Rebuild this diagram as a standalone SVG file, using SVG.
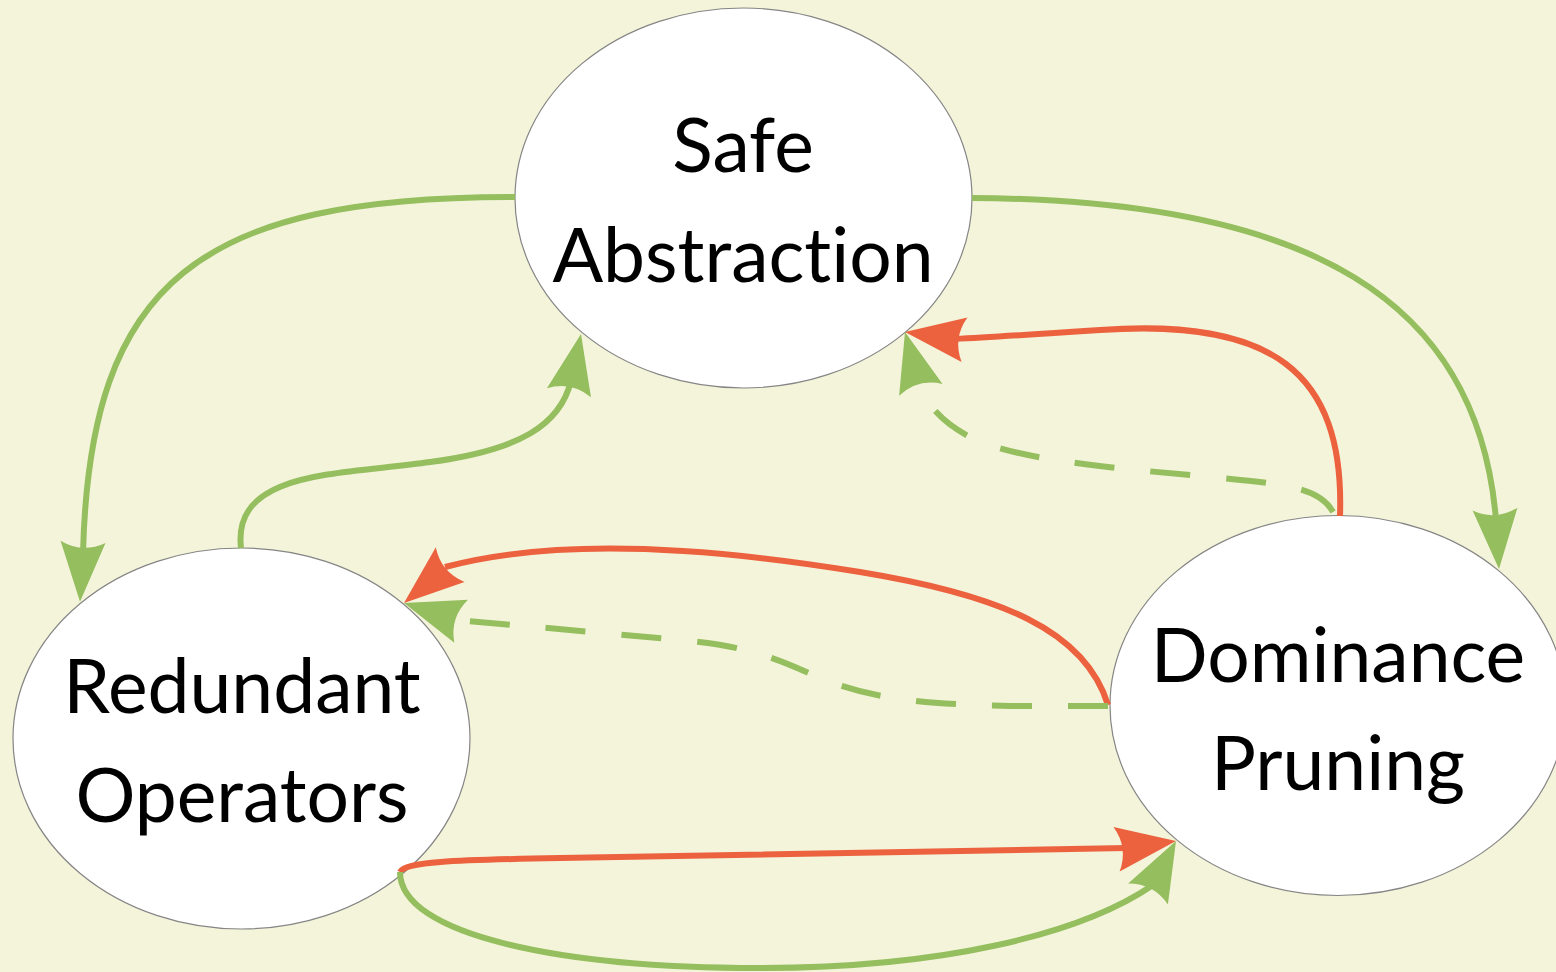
<svg xmlns="http://www.w3.org/2000/svg" xmlns:xlink="http://www.w3.org/1999/xlink" width="1556" height="972" viewBox="0 0 1556 972">
<style>
.node{fill:#ffffff;stroke:#858585;stroke-width:1.2}
.lbl{font-family:Lato,"Open Sans","Liberation Sans",sans-serif;font-size:75px;fill:#000;text-anchor:middle;font-variant-ligatures:none;font-feature-settings:"liga" 0,"clig" 0}
.g{fill:none;stroke:#95BE5E;stroke-width:6}
.r{fill:none;stroke:#EC623F;stroke-width:6}
.d{stroke-dasharray:40 36}
.gh{fill:#95BE5E}
.rh{fill:#EC623F}
</style>
<defs>
<path id="ah" d="M0,0 L-60,-22.5 Q-48,0 -60,22.5 Z"/>
</defs>
<rect width="1556" height="972" fill="#F4F4DB"/>
<g id="nodes">
<g id="safe">
<ellipse class="node" cx="743.5" cy="198" rx="228.5" ry="190"/>
<text class="lbl" x="743" y="172">Safe</text>
<text class="lbl" x="743" y="282">Abstraction</text>
</g>
<g id="redundant">
<ellipse class="node" cx="241.5" cy="738.5" rx="228.5" ry="190.5"/>
<text class="lbl" x="242" y="713">Redundant</text>
<text class="lbl" x="242" y="822">Operators</text>
</g>
<g id="dominance">
<ellipse class="node" cx="1338" cy="705.5" rx="228" ry="190"/>
<text class="lbl" x="1338" y="682">Dominance</text>
<text class="lbl" x="1338" y="790">Pruning</text>
</g>
</g>
<g id="connectors">
<path class="g" d="M515,197 C200,197 90,280 83,553"/>
<use xlink:href="#ah" class="gh" transform="translate(80,601.7) rotate(92.9)"/>
<path class="g" d="M972,198 C1310,200 1478,300 1496,520"/>
<use xlink:href="#ah" class="gh" transform="translate(1499,569) rotate(86.2)"/>
<path class="g" d="M241,548 C232,470 340,475 430,462 C520,450 560,425 571,381"/>
<use xlink:href="#ah" class="gh" transform="translate(581,334) rotate(-78.4)"/>
<path class="r" d="M1340,516 C1345,370 1270,318 1100,330 C1040,334 995,337 955,339"/>
<use xlink:href="#ah" class="rh" transform="translate(905,332) rotate(-172.6)"/>
<path class="g d" d="M1333,512 C1320,488 1290,484 1200,476 C1100,467 1010,458 970,437 C945,424 925,405 918,381"/>
<use xlink:href="#ah" class="gh" transform="translate(905,332) rotate(-105.3)"/>
<path class="r" d="M1108,705 C1085,630 1000,595 860,572 C720,549 560,536 445,567"/>
<use xlink:href="#ah" class="rh" transform="translate(404,603) rotate(140.3)"/>
<path class="g d" d="M1108,706 L1010,706 C900,704 860,694 820,678 C780,660 750,646 680,640 C600,633 520,625 452,620"/>
<use xlink:href="#ah" class="gh" transform="translate(404,603) rotate(-162.3)"/>
<path class="r" d="M400,872 C405,862 450,860 560,858 L1126,848"/>
<use xlink:href="#ah" class="rh" transform="translate(1176,841) rotate(-7.9)"/>
<path class="g" d="M400,872 C400,935 560,968 760,968 C940,968 1080,935 1153,885"/>
<use xlink:href="#ah" class="gh" transform="translate(1176,841) rotate(-62.2)"/>
</g>
</svg>
